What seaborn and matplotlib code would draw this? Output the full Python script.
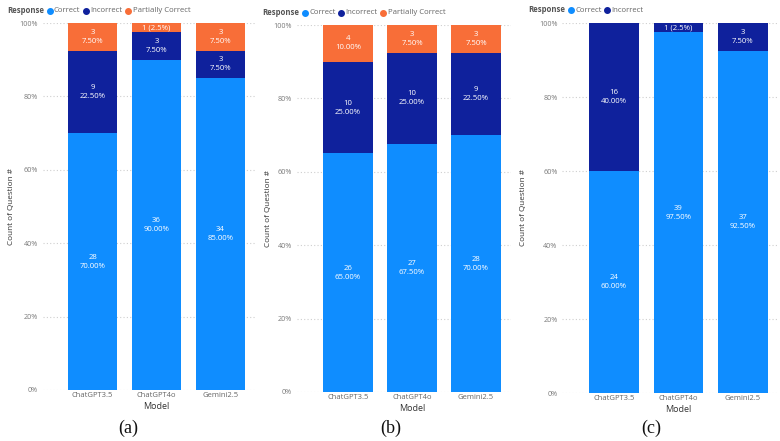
import matplotlib
matplotlib.use("Agg")
import matplotlib.pyplot as plt
from matplotlib.lines import Line2D
import seaborn as sns
import numpy as np

# ---------------- data ----------------
models = ["ChatGPT3.5", "ChatGPT4o", "Gemini2.5"]
total_questions = 40

a_correct = [28, 36, 34]
a_incorrect = [9, 3, 3]
a_partial = [3, 1, 3]

b_correct = [26, 27, 28]
b_incorrect = [10, 10, 9]
b_partial = [4, 3, 3]

c_correct = [24, 39, 37]
c_incorrect = [16, 1, 3]

y_ticks = [0, 20, 40, 60, 80, 100]
captions = ["(a)", "(b)", "(c)"]

# ---------------- style ----------------
sns.set_theme(style="white")
FONT = ["Open Sans", "DejaVu Sans"]
plt.rcParams["font.family"] = FONT

C_CORRECT = "#0F8DFF"
C_INCORRECT = "#0F219C"
C_PARTIAL = "#F86E38"

W, H = 780, 441
fig = plt.figure(figsize=(W / 100, H / 100), dpi=100)


def px_axes(left, top, width, height):
    return fig.add_axes([left / W, 1 - (top + height) / H, width / W, height / H])


def draw_panel(ax, series, xlim, ylabel_x):
    # series: list of (name, counts, color) bottom to top
    pcts = [np.array(c) / total_questions * 100 for _, c, _ in series]
    cums = np.cumsum(pcts, axis=0)
    for gy in y_ticks:
        ax.axhline(gy, color="#cfcfcf", lw=0.8, ls=(0, (1, 2)), zorder=0)
    # draw from top layer down so lower layers overlay
    for i in range(len(series) - 1, -1, -1):
        sns.barplot(x=models, y=cums[i], order=models, color=series[i][2],
                    saturation=1, errorbar=None, width=0.77, ax=ax,
                    linewidth=0, zorder=2)
    # segment labels
    for i, (_, counts, _) in enumerate(series):
        bottoms = cums[i] - pcts[i]
        for j in range(len(models)):
            n = counts[j]
            p = pcts[i][j]
            if n == 0:
                continue
            mid = bottoms[j] + p / 2
            if p >= 5:
                txt = f"{n}\n{p:.2f}%"
            else:
                txt = f"{n} ({p:g}%)"
            ax.text(j, mid, txt, ha="center", va="center", color="white",
                    fontsize=5.6, linespacing=1.4, zorder=5)
    ax.set_xlim(*xlim)
    ax.set_ylim(0, 100)
    ax.set_yticks(y_ticks)
    ax.set_yticklabels([f"{t}%" for t in y_ticks])
    for s in ax.spines.values():
        s.set_visible(False)
    ax.tick_params(axis="y", length=0, pad=3.5, labelsize=5.2, labelcolor="#7a7a7a")
    ax.tick_params(axis="x", length=0, pad=1.5, labelsize=5.5, labelcolor="#666666")
    ax.grid(False)
    ax.set_xlabel("Model", fontsize=6.5, color="#333333", labelpad=3)
    ax.xaxis.set_label_coords((1 - xlim[0]) / (xlim[1] - xlim[0]), -0.033)
    ax.xaxis.label.set_va("top")
    ax.set_ylabel("Count of Question #", fontsize=5.9, color="#333333", va="center")
    ax.yaxis.set_label_coords(ylabel_x, 0.5)
    ax.set_facecolor("none")


def legend(start_px, y_px, items):
    fig.text(start_px / W, 1 - y_px / H, "Response", fontsize=5.6, fontweight="bold",
             color="#555555", ha="left", va="center")
    dot_off = [43, 79, 121]
    txt_off = [47, 83, 126]
    for k, (name, col) in enumerate(items):
        fig.add_artist(Line2D([(start_px + dot_off[k]) / W], [1 - y_px / H], marker="o",
                              markersize=4.0, color=col, lw=0,
                              transform=fig.transFigure))
        fig.text((start_px + txt_off[k]) / W, 1 - y_px / H, name, fontsize=5.6,
                 color="#666666", ha="left", va="center")


# Panel (a)
ax_a = px_axes(42.6, 23, 213.1, 367)
draw_panel(ax_a, [("Correct", a_correct, C_CORRECT),
                  ("Incorrect", a_incorrect, C_INCORRECT),
                  ("Partially Correct", a_partial, C_PARTIAL)],
           (-0.78, 2.55), -0.144)
legend(7, 10.5, [("Correct", C_CORRECT), ("Incorrect", C_INCORRECT),
                 ("Partially Correct", C_PARTIAL)])

# Panel (b)
ax_b = px_axes(296.8, 25, 214.4, 367)
draw_panel(ax_b, [("Correct", b_correct, C_CORRECT),
                  ("Incorrect", b_incorrect, C_INCORRECT),
                  ("Partially Correct", b_partial, C_PARTIAL)],
           (-0.8, 2.55), -0.134)
legend(262, 12.5, [("Correct", C_CORRECT), ("Incorrect", C_INCORRECT),
                   ("Partially Correct", C_PARTIAL)])

# Panel (c)
ax_c = px_axes(562.4, 23, 216, 370)
draw_panel(ax_c, [("Correct", c_correct, C_CORRECT),
                  ("Incorrect", c_incorrect, C_INCORRECT)],
           (-0.8, 2.55), -0.182)
legend(528, 10, [("Correct", C_CORRECT), ("Incorrect", C_INCORRECT)])

for cx, cap in zip([128, 391, 651], captions):
    fig.text(cx / W, 1 - 428 / H, cap, fontsize=13, family="Liberation Serif",
             ha="center", va="center", color="#111111")

fig.savefig("out.png", dpi=100, facecolor="white")
